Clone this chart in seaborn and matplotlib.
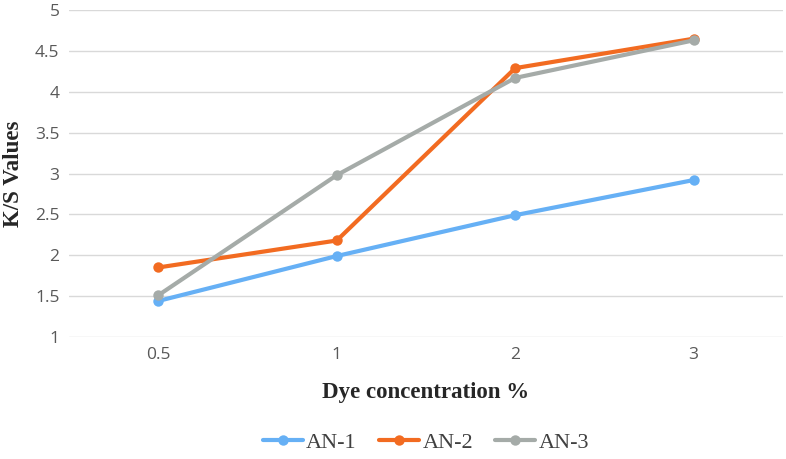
import numpy as np
import pandas as pd
import matplotlib.pyplot as plt
import seaborn as sns

concentrations = ["0.5", "1", "2", "3"]
an1 = [1.44, 1.99, 2.49, 2.92]
an2 = [1.85, 2.18, 4.29, 4.65]
an3 = [1.51, 2.98, 4.17, 4.63]
series = ["AN-1", "AN-2", "AN-3"]
colors = ["#66B0F5", "#F26B21", "#A5ABA8"]

df = pd.DataFrame({
  "conc": concentrations * 3,
  "ks": an1 + an2 + an3,
  "series": np.repeat(series, len(concentrations)),
})

sns.set_style("white")
fig, ax = plt.subplots(figsize=(7.86, 4.59), dpi=100)
fig.subplots_adjust(left=0.088, right=0.996, top=0.978, bottom=0.266)

sns.lineplot(data=df, x="conc", y="ks", hue="series", palette=colors,
             marker="o", markersize=7.5, markeredgewidth=0, linewidth=3,
             ax=ax, legend=True)

ax.set_xlim(-0.5, 3.5)
ax.set_ylim(1, 5)
ax.set_yticks(np.arange(1, 5.01, 0.5))
ax.set_yticklabels([f"{v:g}" for v in np.arange(1, 5.01, 0.5)])
ax.yaxis.grid(True, color="#D9D9D9", linewidth=1)
ax.set_axisbelow(True)
for s in ax.spines.values():
  s.set_visible(False)
ax.tick_params(axis="both", length=0, labelsize=12.5, labelcolor="#595959", pad=7)
for lbl in ax.get_xticklabels() + ax.get_yticklabels():
  lbl.set_family("Open Sans")

ax.set_xlabel("Dye concentration %", family="Liberation Serif", fontweight="bold",
              fontsize=16.5, labelpad=14)
ax.set_ylabel("K/S Values", family="Liberation Serif", fontweight="bold",
              fontsize=16.5)
ax.yaxis.set_label_coords(-0.063, 0.5)

handles, labels = ax.get_legend_handles_labels()
ax.legend(handles, labels, loc="upper center", bbox_to_anchor=(0.5, -0.23),
          ncol=3, frameon=False, prop={"family": "Liberation Serif", "size": 16},
          handlelength=1.8, columnspacing=1.0, handletextpad=0.15, labelcolor="#404040")

fig.savefig("out.png", dpi=100)
